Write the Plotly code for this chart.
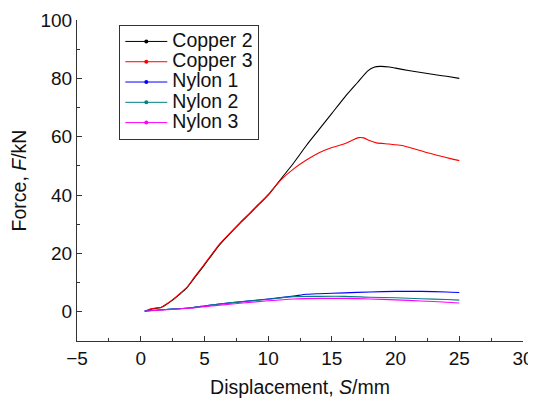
import plotly.graph_objects as go

copper2_x = [0.35, 0.8, 1.2, 1.6, 2.0, 2.5, 3.0, 3.6, 4.2, 4.9, 5.5, 6.2, 7.0, 7.8, 8.5, 9.2, 10, 11, 12, 13, 14, 15, 16, 17, 17.8, 18.3, 18.8, 19.5, 20, 21, 22, 23, 24, 25]
copper2_y = [0.2, 0.9, 1.2, 1.5, 2.5, 4.0, 5.8, 8.1, 11.5, 15.5, 19, 23, 26.8, 30.4, 33.4, 36.5, 40, 45.5, 51, 57, 62.5, 68, 73.5, 78.5, 82.5, 83.8, 84.1, 83.9, 83.5, 82.7, 82, 81.3, 80.7, 80]

copper3_x = [0.35, 0.8, 1.2, 1.6, 2.0, 2.5, 3.0, 3.6, 4.2, 4.9, 5.5, 6.2, 7.0, 7.8, 8.5, 9.2, 10, 11, 12, 13, 14, 15, 16, 16.6, 17.1, 17.5, 18, 18.5, 19.5, 20.5, 21.5, 22.5, 23.5, 24.3, 25]
copper3_y = [0.2, 1.0, 1.3, 1.5, 2.6, 4.2, 6.0, 8.3, 11.8, 15.8, 19.3, 23.3, 27, 30.6, 33.6, 36.7, 40.2, 45.2, 49, 52, 54.5, 56.3, 57.6, 58.8, 59.7, 59.6, 58.6, 57.9, 57.5, 57, 55.8, 54.5, 53.4, 52.5, 51.8]

nylon1_x = [0.3, 2, 4, 5, 6, 8, 10, 12, 13, 14, 16, 18, 20, 22, 24, 25]
nylon1_y = [0.3, 0.8, 1.4, 2.0, 2.6, 3.5, 4.4, 5.4, 6.0, 6.2, 6.5, 6.8, 7.0, 7.0, 6.8, 6.6]

nylon2_x = [0.3, 2, 4, 5, 6, 8, 10, 12, 14, 16, 18, 20, 22, 24, 25]
nylon2_y = [0.3, 0.8, 1.4, 2.0, 2.6, 3.5, 4.3, 5.2, 5.3, 5.3, 5.0, 4.8, 4.5, 4.2, 4.0]

nylon3_x = [0.3, 2, 4, 6, 8, 10, 12, 14, 16, 18, 20, 22, 24, 25]
nylon3_y = [0.2, 0.7, 1.3, 2.2, 3.0, 3.8, 4.4, 4.6, 4.6, 4.4, 4.1, 3.7, 3.3, 3.0]

x_ticks = [-5, 0, 5, 10, 15, 20, 25, 30]
x_ticktext = ["\u22125", "0", "5", "10", "15", "20", "25", "30"]
y_ticks = [0, 20, 40, 60, 80, 100]
y_minor = [-10, 10, 30, 50, 70, 90]

series = [
    ("Copper 2", copper2_x, copper2_y, "#000000"),
    ("Copper 3", copper3_x, copper3_y, "#ff0000"),
    ("Nylon 1", nylon1_x, nylon1_y, "#0000ff"),
    ("Nylon 2", nylon2_x, nylon2_y, "#008080"),
    ("Nylon 3", nylon3_x, nylon3_y, "#ff00ff"),
]

fig = go.Figure()
for name, xs, ys, col in series:
    fig.add_trace(go.Scatter(x=xs, y=ys, mode="lines", line=dict(color=col, width=1.1, shape="spline", smoothing=0.6),
                             showlegend=False, hoverinfo="skip"))
for name, xs, ys, col in series:
    fig.add_trace(go.Scatter(x=[None], y=[None], mode="lines+markers",
                             name='<span style="font-size:19.5px">' + name + '</span>',
                             line=dict(color=col, width=1),
                             marker=dict(color=col, size=4)))

font = "Liberation Sans, Arial, sans-serif"
axis_common = dict(showline=True, linecolor="#333", linewidth=1, ticks="inside", ticklen=5,
                   tickcolor="#333", showgrid=False, zeroline=False, mirror=False, automargin=False,
                   tickfont=dict(size=19, color="#111", family=font))

# page body has an 8px margin: compensate so the plot area lands at x 77..523, y 20..341
fig.update_layout(
    width=536, height=398,
    margin=dict(l=69, r=21, t=12, b=65),
    paper_bgcolor="white", plot_bgcolor="white",
    font=dict(family=font, color="#111"),
    xaxis=dict(range=[-5, 30], tickvals=x_ticks, ticktext=x_ticktext,
               minor=dict(ticks="inside", ticklen=3, dtick=2.5, tickcolor="#333"),
               title=dict(text="Displacement, <i>S</i>/mm", font=dict(size=19.5), standoff=12),
               **axis_common),
    yaxis=dict(range=[-10, 100], tickvals=y_ticks,
               minor=dict(ticks="inside", ticklen=3, tickvals=y_minor, tickcolor="#333"),
               title=dict(text="Force, <i>F</i>/kN", font=dict(size=19.5), standoff=8),
               **axis_common),
    legend=dict(x=(119 - 77) / 446, y=1 - (25 - 20) / 321, xanchor="left", yanchor="top",
                bordercolor="#333", borderwidth=1.3, itemwidth=42,
                bgcolor="white", font=dict(size=13.3, family=font), tracegroupgap=0),
)

fig.write_html("out.html")
